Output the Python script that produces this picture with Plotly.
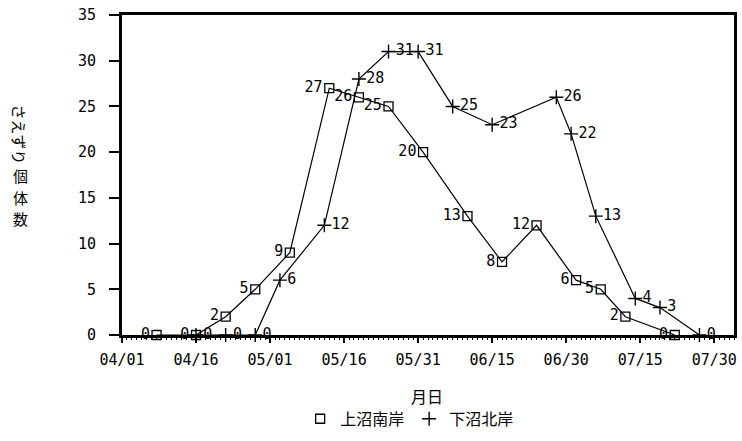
import pandas as pd
import plotly.graph_objects as go

# 上沼南岸: survey dates and singing-bird counts
south_dates = ["04/08", "04/16", "04/22", "04/28", "05/05", "05/13", "05/19", "05/25",
               "06/01", "06/10", "06/17", "06/24", "07/02", "07/07", "07/12", "07/22"]
south_counts = [0, 0, 2, 5, 9, 27, 26, 25, 20, 13, 8, 12, 6, 5, 2, 0]

# 下沼北岸: survey dates and singing-bird counts
north_dates = ["04/16", "04/22", "04/28", "05/03", "05/12", "05/19", "05/25", "05/31",
               "06/07", "06/15", "06/28", "07/01", "07/06", "07/14", "07/19", "07/27"]
north_counts = [0, 0, 0, 6, 12, 28, 31, 31, 25, 23, 26, 22, 13, 4, 3, 0]

tick_labels = ["04/01", "04/16", "05/01", "05/16", "05/31", "06/15", "06/30", "07/15", "07/30"]
y_ticks = [0, 5, 10, 15, 20, 25, 30, 35]

START = pd.Timestamp("2000-04-01")


def day_offset(labels):
    return [(pd.Timestamp("2000/" + s) - START).days for s in labels]


south_x = day_offset(south_dates)
north_x = day_offset(north_dates)
tick_x = day_offset(tick_labels)

NUM_FONT = dict(family="DejaVu Sans Mono", size=15, color="black")
JP_FONT = dict(family="Noto Sans CJK JP", size=16, color="black")
TITLE_FONT = dict(family="Noto Sans CJK JP", size=15, color="black")

SQUARE = dict(symbol="square-open", size=9, color="black", line=dict(width=1.3))
PLUS = dict(symbol="cross-thin", size=10, color="black", line=dict(width=1.4, color="black"))

fig = go.Figure()

fig.add_trace(go.Scatter(
    x=south_x, y=south_counts, mode="lines+markers+text",
    text=[str(v) for v in south_counts], textposition="middle left",
    textfont=NUM_FONT,
    line=dict(color="black", width=1.2),
    marker=SQUARE, cliponaxis=False, showlegend=False,
))
fig.add_trace(go.Scatter(
    x=north_x, y=north_counts, mode="lines+markers+text",
    text=[str(v) for v in north_counts], textposition="middle right",
    textfont=NUM_FONT,
    line=dict(color="black", width=1.2),
    marker=PLUS, cliponaxis=False, showlegend=False,
))

# legend entries (marker only)
fig.add_trace(go.Scatter(x=[None], y=[None], mode="markers", name="上沼南岸", marker=SQUARE))
fig.add_trace(go.Scatter(x=[None], y=[None], mode="markers", name="下沼北岸", marker=PLUS))

fig.update_layout(
    width=742, height=441,
    margin=dict(l=122, r=5, t=15, b=98),
    paper_bgcolor="white", plot_bgcolor="white",
    font=NUM_FONT,
    legend=dict(orientation="h", x=0.47, xanchor="center", y=-0.262, yanchor="middle",
                font=JP_FONT, itemwidth=30, bgcolor="rgba(0,0,0,0)"),
)

fig.update_xaxes(
    range=[0, 124], tickmode="array", tickvals=tick_x, ticktext=tick_labels,
    ticks="outside", ticklen=5, tickwidth=1.5, tickcolor="black",
    minor=dict(tickmode="linear", tick0=0, dtick=1, ticks="outside", ticklen=2,
               tickwidth=1, tickcolor="black", showgrid=False),
    ticklabelstandoff=4, tickfont=NUM_FONT,
    showline=True, linewidth=3, linecolor="black", mirror=True,
    showgrid=False, zeroline=False,
)
fig.update_yaxes(
    range=[0, 35], tickmode="array", tickvals=y_ticks,
    ticks="outside", ticklen=10, tickwidth=2, tickcolor="black",
    ticklabelstandoff=10, tickfont=NUM_FONT,
    showline=True, linewidth=3, linecolor="black", mirror=True,
    showgrid=False, zeroline=False,
)

# x-axis title
fig.add_annotation(text="月日", x=0.4976, y=-0.192, xref="paper", yref="paper",
                   showarrow=False, font=JP_FONT, xanchor="center", yanchor="middle")

# y-axis title, written vertically: kana turned sideways, kanji stacked upright
TITLE_X = 20  # px from the left edge of the figure
PLOT_LEFT, PLOT_W, PLOT_BOTTOM, PLOT_H = 122, 615, 343, 328


def px_to_paper(px, py):
    return (px - PLOT_LEFT) / PLOT_W, (PLOT_BOTTOM - py) / PLOT_H


kx, ky = px_to_paper(TITLE_X, 138)
fig.add_annotation(text="さえずり", x=kx, y=ky, xref="paper", yref="paper",
                   showarrow=False, font=TITLE_FONT, textangle=90,
                   xanchor="center", yanchor="middle")
for ch, cy in zip("個体数", [180, 202, 224]):
    cx, cyp = px_to_paper(TITLE_X, cy)
    fig.add_annotation(text=ch, x=cx, y=cyp, xref="paper", yref="paper",
                       showarrow=False, font=TITLE_FONT,
                       xanchor="center", yanchor="middle")

fig.write_html("out.html")
